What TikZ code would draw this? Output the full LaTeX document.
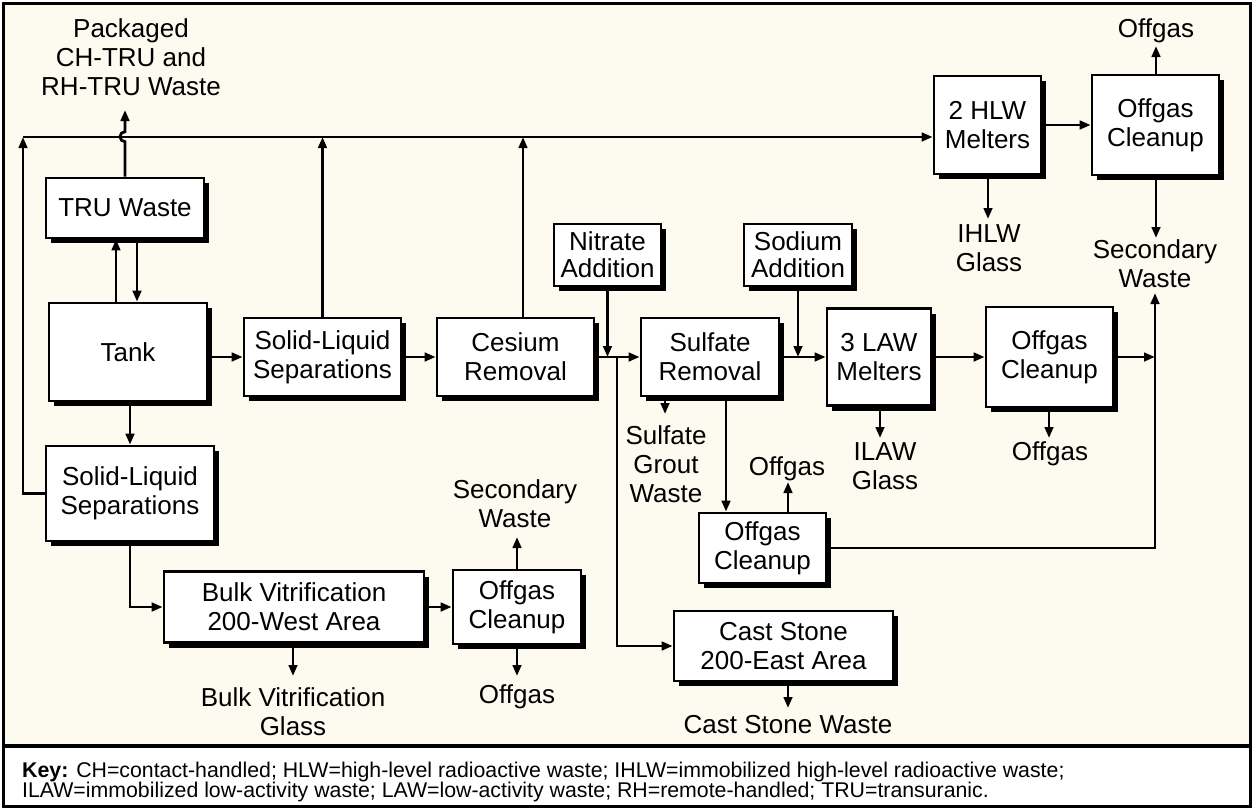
\documentclass[tikz,border=0pt]{standalone}
\usepackage{fontspec}
\setmainfont{Liberation Sans}
\usetikzlibrary{arrows.meta,shadows}
\definecolor{cream}{RGB}{253,251,240}
\begin{document}
\begin{tikzpicture}[x=1pt,y=-1pt,
  box/.style={draw=black, line width=2.6pt, fill=white, align=center, inner sep=0pt,
    font=\fontsize{26}{29}\selectfont,
    general shadow={fill=black, shadow xshift=5pt, shadow yshift=-5pt}},
  lbl/.style={align=center, inner sep=0pt, anchor=base, font=\fontsize{26}{29}\selectfont},
  conn/.style={line width=2.8pt},
  arr/.style={conn, -{Triangle[length=11pt,width=8.5pt]}},
]
\useasboundingbox (0,0) rectangle (1254,809);
% frame
\fill[cream] (3,3) rectangle (1251,745);
\fill[white] (3,745) rectangle (1251,807);
\draw[line width=3pt] (3.5,3.5) rectangle (1250.5,806.5);
\draw[line width=4pt] (3,745.5) -- (1251,745.5);

% boxes
\node[box, minimum width=158pt, minimum height=60pt] (tru) at (125,208) {TRU Waste};
\node[box, minimum width=158pt, minimum height=98pt] (tank) at (128,352) {Tank};
\node[box, minimum width=168pt, minimum height=95pt] (lsls) at (130,493.5) {Solid-Liquid\\Separations};
\node[box, minimum width=157pt, minimum height=78pt] (sls) at (322.5,357) {Solid-Liquid\\Separations};
\node[box, minimum width=157pt, minimum height=78pt] (ces) at (515.5,357) {Cesium\\Removal};
\node[box, minimum width=107pt, minimum height=62pt, font=\fontsize{26}{27}\selectfont] (nit) at (607.5,255) {Nitrate\\Addition};
\node[box, minimum width=138pt, minimum height=78pt] (sul) at (710,357) {Sulfate\\Removal};
\node[box, minimum width=108pt, minimum height=62pt, font=\fontsize{26}{27}\selectfont] (sod) at (798,255) {Sodium\\Addition};
\node[box, minimum width=104pt, minimum height=97pt] (law) at (879,357) {3 LAW\\Melters};
\node[box, minimum width=127pt, minimum height=100pt] (ogm) at (1049.5,357) {Offgas\\Cleanup};
\node[box, minimum width=107pt, minimum height=98pt] (hlw) at (987.5,125) {2 HLW\\Melters};
\node[box, minimum width=127pt, minimum height=100pt] (ogt) at (1155.5,125) {Offgas\\Cleanup};
\node[box, minimum width=260pt, minimum height=71pt] (bulk) at (294,607) {Bulk Vitrification\\200-West Area};
\node[box, minimum width=128pt, minimum height=74pt] (bog) at (517,607) {Offgas\\Cleanup};
\node[box, minimum width=219pt, minimum height=70pt] (cast) at (783.5,646) {Cast Stone\\200-East Area};
\node[box, minimum width=127pt, minimum height=70pt] (ogl) at (762.5,548) {Offgas\\Cleanup};

% labels (anchor = baseline of last line)
\node[lbl] (pkg) at (131,95) {Packaged\\CH-TRU and\\RH-TRU Waste};
\node[lbl] (ogtlbl) at (1156,37) {Offgas};
\node[lbl] (ihlw) at (989,271) {IHLW\\Glass};
\node[lbl] (secwt) at (1155,287) {Secondary\\Waste};
\node[lbl] (grout) at (666,502) {Sulfate\\Grout\\Waste};
\node[lbl] (ogllbl) at (787,475) {Offgas};
\node[lbl] (ilaw) at (885,489) {ILAW\\Glass};
\node[lbl] (ogmlbl) at (1050,460) {Offgas};
\node[lbl] (secwb) at (515,527) {Secondary\\Waste};
\node[lbl] (boglbl) at (517,703) {Offgas};
\node[lbl] (bvg) at (293,735) {Bulk Vitrification\\Glass};
\node[lbl] (csw) at (788,733) {Cast Stone Waste};

% key
\node[anchor=base west, align=left, inner sep=0pt, font=\fontsize{21.3}{20}\selectfont] (key) at (22,797)
 {\textbf{Key:} CH=contact-handled; HLW=high-level radioactive waste; IHLW=immobilized high-level radioactive waste;\\
  ILAW=immobilized low-activity waste; LAW=low-activity waste; RH=remote-handled; TRU=transuranic.};

% helper coordinates
\coordinate (corner) at (23,137);
\coordinate (pkgtip) at (125,110);
\coordinate (ogttip) at (1156,46);
\coordinate (ihlwtip) at (988,219);
\coordinate (swtip) at (1156,238);
\coordinate (swbtip) at (1155,293);
\coordinate (grouttip) at (665,414);
\coordinate (ogltip) at (788,482);
\coordinate (ilawtip) at (880,438);
\coordinate (ogmtip) at (1049,438);
\coordinate (bswtip) at (517,537);
\coordinate (bogtip) at (517,676);
\coordinate (bvgtip) at (293,676);
\coordinate (cswtip) at (788,708);
\coordinate (jn) at (617,357);
\coordinate (sdx) at (726,450);
\coordinate (cesup) at (523,317);
\coordinate (tup) at (116,300);
\coordinate (tdn) at (137,300);

% connectors
\draw[arr] (lsls.west) -| (corner);
\draw[arr] (corner) -- (corner -| hlw.west);
\draw[arr] (tru.north) -- ++(0,-35) arc[start angle=270, end angle=90, radius=5pt] -- (pkgtip);
\draw[arr] (tup |- tank.north) -- (tup |- tru.south);
\draw[arr] (tdn |- tru.south) -- (tdn |- tank.north);
\draw[arr] (sls.north) -- (sls.north |- corner);
\draw[arr] (cesup |- ces.north) -- (cesup |- corner);
\draw[arr] (tank.east |- sls.west) -- (sls.west);
\draw[arr] (sls.east) -- (ces.west);
\draw[arr] (ces.east) -- (sul.west);
\draw[arr] (nit.south) -- (nit.south |- jn);
\draw[arr] (jn) |- (cast.west);
\draw[arr] (sod.south) -- (sod.south |- sul.east);
\draw[arr] (sul.east) -- (law.west);
\draw[arr] (law.east) -- (ogm.west);
\draw[arr] (ogm.east) -- (ogm.east -| swbtip);
\draw[arr] (ogl.east) -| (swbtip);
\draw[arr] (sdx |- sul.south) -- (sdx |- ogl.north);
\draw[arr] (grouttip |- sul.south) -- (grouttip);
\draw[arr] (ogltip |- ogl.north) -- (ogltip);
\draw[arr] (ilawtip |- law.south) -- (ilawtip);
\draw[arr] (ogmtip |- ogm.south) -- (ogmtip);
\draw[arr] (hlw.east) -- (ogt.west);
\draw[arr] (ogttip |- ogt.north) -- (ogttip);
\draw[arr] (swtip |- ogt.south) -- (swtip);
\draw[arr] (ihlwtip |- hlw.south) -- (ihlwtip);
\draw[arr] (lsls.north |- tank.south) -- (lsls.north);
\draw[arr] (lsls.south) |- (bulk.west);
\draw[arr] (bulk.east) -- (bog.west);
\draw[arr] (bog.north) -- (bswtip);
\draw[arr] (bog.south) -- (bogtip);
\draw[arr] (bvgtip |- bulk.south) -- (bvgtip);
\draw[arr] (cswtip |- cast.south) -- (cswtip);
\end{tikzpicture}
\end{document}
